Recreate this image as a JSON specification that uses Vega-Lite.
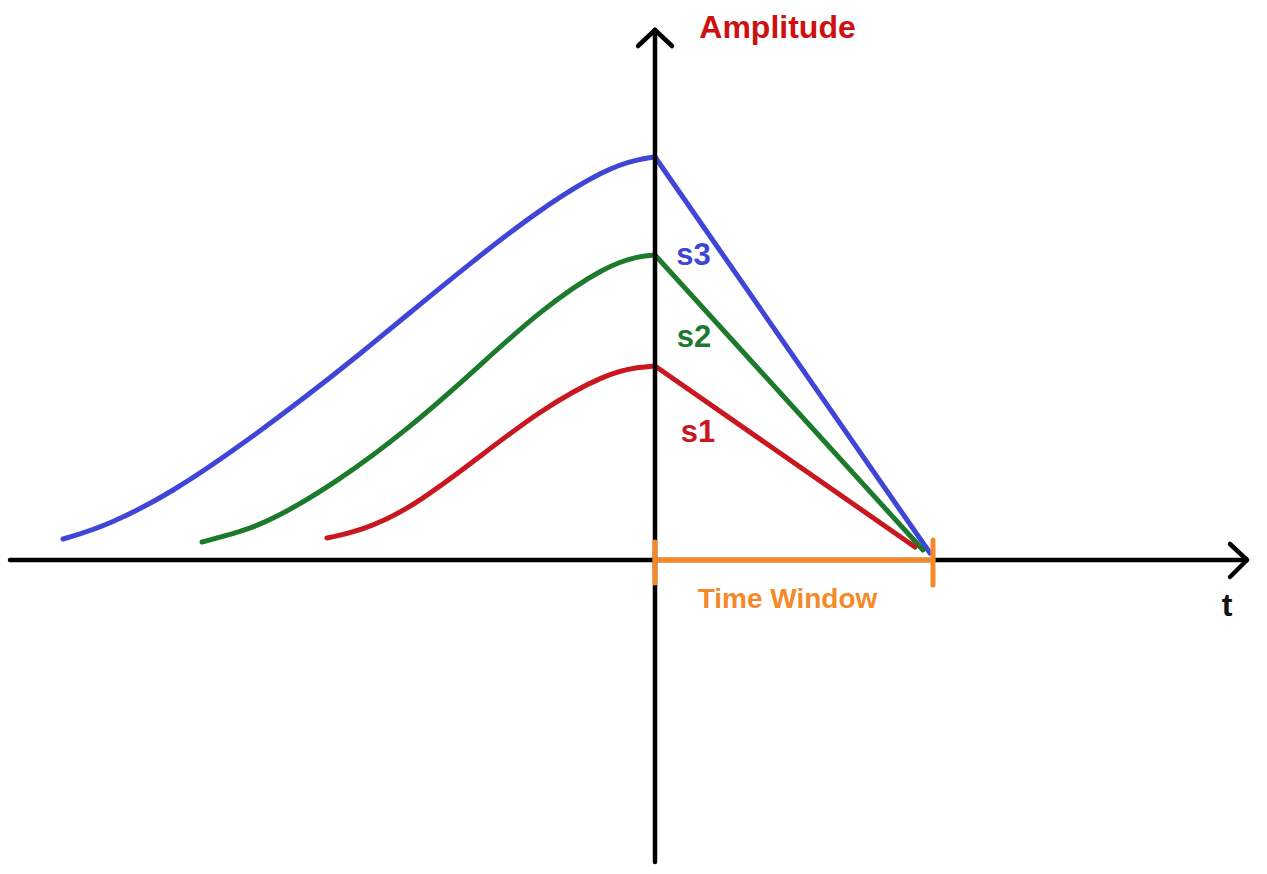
{
  "$schema": "https://vega.github.io/schema/vega-lite/v6.json",
  "autosize": {"type": "fit", "contains": "padding"},
  "width": 1267,
  "height": 874,
  "padding": 0,
  "background": "white",
  "config": {"view": {"stroke": null}},
  "datasets": {
    "curves": [
      {"series": "s3", "t": -592, "a": 21}, {"series": "s3", "t": -548, "a": 34}, {"series": "s3", "t": -482, "a": 68},
      {"series": "s3", "t": -415, "a": 114}, {"series": "s3", "t": -348, "a": 164}, {"series": "s3", "t": -295, "a": 206},
      {"series": "s3", "t": -248, "a": 245}, {"series": "s3", "t": -182, "a": 299}, {"series": "s3", "t": -115, "a": 351},
      {"series": "s3", "t": -48, "a": 392}, {"series": "s3", "t": -15, "a": 401}, {"series": "s3", "t": 0, "a": 403},
      {"series": "s2", "t": -453, "a": 18}, {"series": "s2", "t": -415, "a": 28}, {"series": "s2", "t": -382, "a": 40},
      {"series": "s2", "t": -315, "a": 80}, {"series": "s2", "t": -248, "a": 130}, {"series": "s2", "t": -182, "a": 188},
      {"series": "s2", "t": -115, "a": 250}, {"series": "s2", "t": -48, "a": 295}, {"series": "s2", "t": -15, "a": 304},
      {"series": "s2", "t": 0, "a": 305},
      {"series": "s1", "t": -328, "a": 22}, {"series": "s1", "t": -295, "a": 29}, {"series": "s1", "t": -248, "a": 49},
      {"series": "s1", "t": -182, "a": 98}, {"series": "s1", "t": -115, "a": 150}, {"series": "s1", "t": -48, "a": 187},
      {"series": "s1", "t": -15, "a": 193}, {"series": "s1", "t": 0, "a": 194}
    ],
    "decay": [
      {"series": "s3", "t": 0, "a": 403}, {"series": "s3", "t": 275, "a": 7},
      {"series": "s2", "t": 0, "a": 305}, {"series": "s2", "t": 268, "a": 10},
      {"series": "s1", "t": 0, "a": 194}, {"series": "s1", "t": 260, "a": 13}
    ],
    "axes": [
      {"part": "t axis", "t": -645, "a": 0, "t2": 590, "a2": 0},
      {"part": "t arrow up", "t": 592, "a": 0, "t2": 575, "a2": 16},
      {"part": "t arrow down", "t": 592, "a": 0, "t2": 575, "a2": -17},
      {"part": "amp axis", "t": 0, "a": -302, "t2": 0, "a2": 528},
      {"part": "amp arrow left", "t": 0, "a": 530, "t2": -17, "a2": 514},
      {"part": "amp arrow right", "t": 0, "a": 530, "t2": 17, "a2": 514}
    ],
    "window": [
      {"part": "span", "t": 0, "a": 0, "t2": 278, "a2": 0},
      {"part": "start", "t": 0, "a": 18, "t2": 0, "a2": -23},
      {"part": "end", "t": 278, "a": 20, "t2": 278, "a2": -25}
    ],
    "labels": [
      {"series": "s3", "t": 38.5, "a": 295},
      {"series": "s2", "t": 39, "a": 213},
      {"series": "s1", "t": 43, "a": 118}
    ]
  },
  "encoding": {
    "x": {"field": "t", "type": "quantitative", "axis": null, "scale": {"domain": [-655, 612], "nice": false, "zero": false}},
    "y": {"field": "a", "type": "quantitative", "axis": null, "scale": {"domain": [-314, 560], "nice": false, "zero": false}}
  },
  "layer": [
    {
      "data": {"name": "curves"},
      "mark": {"type": "line", "interpolate": "basis", "strokeWidth": 5, "strokeCap": "round", "strokeJoin": "round"},
      "encoding": {
        "color": {"field": "series", "type": "nominal", "legend": null, "scale": {"domain": ["s1", "s2", "s3"], "range": ["#c9171f", "#1c7a2c", "#3f45d6"]}},
        "detail": {"field": "series"}
      }
    },
    {
      "data": {"name": "decay"},
      "mark": {"type": "line", "strokeWidth": 5, "strokeCap": "round", "strokeJoin": "round"},
      "encoding": {
        "color": {"field": "series", "type": "nominal", "legend": null},
        "detail": {"field": "series"}
      }
    },
    {
      "data": {"name": "axes"},
      "mark": {"type": "rule", "color": "black", "strokeWidth": 4.5, "strokeCap": "round"},
      "encoding": {
        "x2": {"field": "t2"},
        "y2": {"field": "a2"}
      }
    },
    {
      "data": {"name": "window"},
      "mark": {"type": "rule", "color": "#f5892a", "strokeWidth": 5, "strokeCap": "round"},
      "encoding": {
        "x2": {"field": "t2"},
        "y2": {"field": "a2"}
      }
    },
    {
      "data": {"name": "labels"},
      "mark": {"type": "text", "font": "Liberation Sans", "fontWeight": "bold", "fontSize": 31, "align": "center", "baseline": "alphabetic"},
      "encoding": {
        "text": {"field": "series"},
        "color": {"field": "series", "type": "nominal", "legend": null}
      }
    },
    {
      "data": {"values": [{"text": "Amplitude", "t": 122.5, "a": 522}]},
      "mark": {"type": "text", "font": "Liberation Sans", "fontWeight": "bold", "fontSize": 32, "align": "center", "baseline": "alphabetic", "color": "#cc1111"},
      "encoding": {"text": {"field": "text"}}
    },
    {
      "data": {"values": [{"text": "Time Window", "t": 132.5, "a": -48}]},
      "mark": {"type": "text", "font": "Liberation Sans", "fontWeight": "bold", "fontSize": 28, "align": "center", "baseline": "alphabetic", "color": "#f5892a"},
      "encoding": {"text": {"field": "text"}}
    },
    {
      "data": {"values": [{"text": "t", "t": 572, "a": -56}]},
      "mark": {"type": "text", "font": "Liberation Sans", "fontWeight": "bold", "fontSize": 32, "align": "center", "baseline": "alphabetic", "color": "#111111"},
      "encoding": {"text": {"field": "text"}}
    }
  ]
}
